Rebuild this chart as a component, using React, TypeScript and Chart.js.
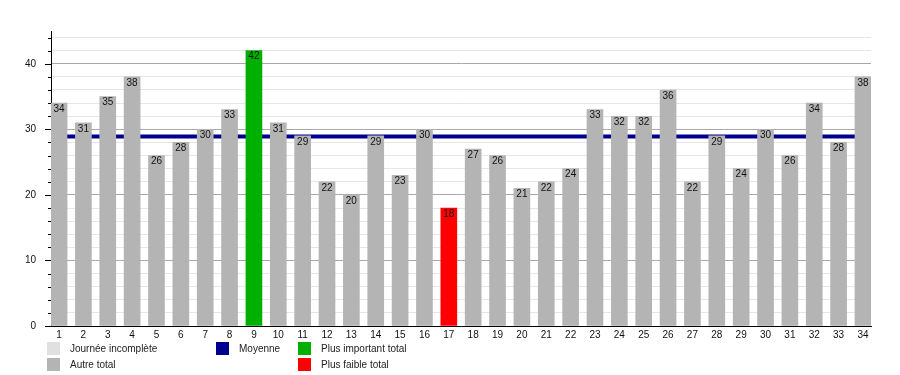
import React, { useEffect, useRef } from 'react';
import { Chart, registerables } from 'chart.js';
Chart.register(...registerables);

const days = [1,2,3,4,5,6,7,8,9,10,11,12,13,14,15,16,17,18,19,20,21,22,23,24,25,26,27,28,29,30,31,32,33,34];
const totals = [34,31,35,38,26,28,30,33,42,31,29,22,20,29,23,30,18,27,26,21,22,24,33,32,32,36,22,29,24,30,26,34,28,38];
const meanTotal = 28.9;
const yMax = 45;
const yTickValues = [0,2,4,6,8,10,12,14,16,18,20,22,24,26,28,30,32,34,36,38,40,42,44];
const legendItems = [
  { label: 'Journée incomplète', color: '#e0e0e0', col: 0, row: 0 },
  { label: 'Autre total', color: '#b4b4b4', col: 0, row: 1 },
  { label: 'Moyenne', color: '#000090', col: 1, row: 0 },
  { label: 'Plus important total', color: '#00b000', col: 2, row: 0 },
  { label: 'Plus faible total', color: '#ff0000', col: 2, row: 1 },
];

const GRAY = '#b4b4b4';
const GREEN = '#00b000';
const RED = '#ff0000';
const NAVY = '#000090';
const FONT = '"Liberation Sans", Arial, sans-serif';

export default function App() {
  const ref = useRef<HTMLCanvasElement>(null);
  useEffect(() => {
    if (!ref.current) return;
    const maxV = Math.max(...totals);
    const minV = Math.min(...totals);
    const colors = totals.map(v => (v === maxV ? GREEN : v === minV ? RED : GRAY));
    const xMin = 1 - 0.33;
    const xMax = days.length + 0.33;

    const extras = {
      id: 'extras',
      afterDatasetsDraw(chart: any) {
        const ctx = chart.ctx;
        const meta = chart.getDatasetMeta(0);
        ctx.save();
        ctx.font = '10px ' + FONT;
        ctx.fillStyle = '#111';
        ctx.textAlign = 'center';
        ctx.textBaseline = 'middle';
        meta.data.forEach((bar: any, i: number) => {
          ctx.fillText(String(totals[i]), bar.x, bar.y + 6);
        });
        ctx.restore();
      },
      afterDraw(chart: any) {
        const ctx = chart.ctx;
        const y = chart.scales.y;
        const left = chart.chartArea.left;
        ctx.save();
        ctx.strokeStyle = '#000';
        ctx.lineWidth = 1;
        yTickValues.forEach(v => {
          const py = Math.round(y.getPixelForValue(v)) + 0.5;
          const len = v % 10 === 0 ? 6 : 3;
          ctx.beginPath();
          ctx.moveTo(left - len, py);
          ctx.lineTo(left, py);
          ctx.stroke();
        });
        // legend
        ctx.font = '10px ' + FONT;
        ctx.textBaseline = 'middle';
        ctx.textAlign = 'left';
        const colX = [47, 216, 298];
        const rowY = [342, 358];
        legendItems.forEach(it => {
          const sx = colX[it.col];
          const sy = rowY[it.row];
          ctx.fillStyle = it.color;
          ctx.fillRect(sx, sy, 13, 13);
          ctx.fillStyle = '#222';
          ctx.fillText(it.label, sx + 23, sy + 7.5);
        });
        ctx.restore();
      },
    };

    const chart = new Chart(ref.current, {
      type: 'bar',
      data: {
        datasets: [
          {
            type: 'bar',
            data: days.map((d, i) => ({ x: d, y: totals[i] })),
            backgroundColor: colors,
            barThickness: 16,
            order: 1,
          } as any,
          {
            type: 'line',
            data: [{ x: xMin, y: meanTotal }, { x: xMax, y: meanTotal }],
            borderColor: NAVY,
            borderWidth: 4,
            pointRadius: 0,
            order: 2,
          } as any,
        ],
      },
      options: {
        responsive: false,
        animation: false,
        layout: { padding: { top: 31, right: 29, left: 0, bottom: 0 } },
        plugins: { legend: { display: false }, tooltip: { enabled: false } },
        scales: {
          x: {
            type: 'linear',
            offset: false,
            min: xMin,
            max: xMax,
            afterBuildTicks: (s: any) => { s.ticks = days.map(d => ({ value: d })); },
            afterFit: (s: any) => { s.height = 49; },
            ticks: {
              autoSkip: false,
              maxRotation: 0,
              padding: 3,
              color: '#111',
              font: { family: FONT, size: 10 },
              callback: (v: any) => String(v),
            },
            grid: { display: false, drawTicks: false, offset: false },
            border: { display: true, color: '#000', width: 1 },
          },
          y: {
            min: 0,
            max: yMax,
            afterBuildTicks: (s: any) => { s.ticks = yTickValues.map(v => ({ value: v })); },
            afterFit: (s: any) => { s.width = 51; },
            ticks: {
              autoSkip: false,
              padding: 15,
              color: '#111',
              font: { family: FONT, size: 10 },
              callback: (v: any) => (v % 10 === 0 ? String(v) : ''),
            },
            grid: {
              drawTicks: false,
              color: (c: any) => (c.tick && c.tick.value % 10 === 0 ? '#a8a8a8' : '#e6e6e6'),
              lineWidth: 1,
            },
            border: { display: true, color: '#000', width: 1 },
          },
        },
      },
      plugins: [extras],
    } as any);
    return () => chart.destroy();
  }, []);
  return (
    <div style={{ position: 'absolute', left: 0, top: 0, width: 900, height: 375, background: '#fff' }}>
      <canvas ref={ref} width={900} height={375} style={{ display: 'block' }} />
    </div>
  );
}
